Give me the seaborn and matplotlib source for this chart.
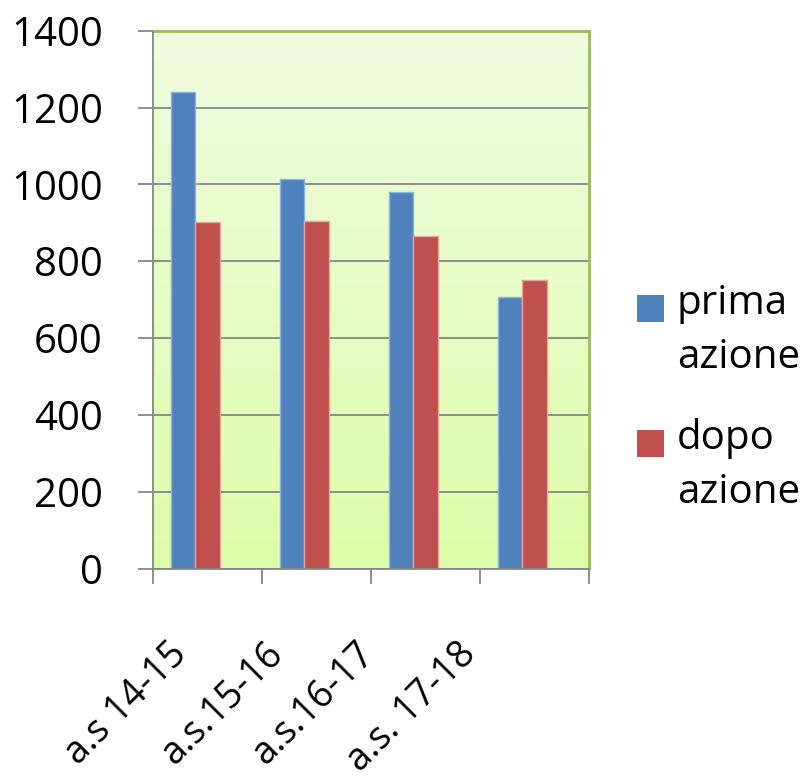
import numpy as np
import pandas as pd
import matplotlib
matplotlib.use("Agg")
import matplotlib.pyplot as plt
import matplotlib.transforms as mtransforms
from matplotlib.patches import Rectangle
import seaborn as sns

categories = ["a.s 14-15", "a.s.15-16", "a.s.16-17", "a.s. 17-18"]
prima = [1240, 1013, 980, 707]
dopo = [902, 905, 865, 750]
series_names = ["prima azione", "dopo azione"]
yticks = [0, 200, 400, 600, 800, 1000, 1200, 1400]

df = pd.DataFrame({
    "cat": categories * 2,
    "val": prima + dopo,
    "serie": [series_names[0]] * 4 + [series_names[1]] * 4,
})

sns.set_theme(style="white")
plt.rcParams["font.family"] = ["Open Sans", "DejaVu Sans"]

colors = {"prima azione": "#4F81BD", "dopo azione": "#C0504D", "_": "#FFFFFF"}
edges = ["#8DB3E2", "#E6A3A1"]

fig = plt.figure(figsize=(8.06, 7.76), dpi=100)
ax = fig.add_axes([153 / 806, 1 - 568.6 / 776, (589 - 153) / 806, (568.6 - 30.7) / 776])

# gradient background
grad = np.linspace(0, 1, 256).reshape(-1, 1)
top = np.array([240, 253, 225]) / 255
bot = np.array([221, 252, 168]) / 255
img = top[None, None, :] * (1 - grad[:, :, None]) + bot[None, None, :] * grad[:, :, None]
ax.imshow(img, extent=[-0.5, 3.5, 0, 1400], aspect="auto", origin="upper", zorder=0)

sns.barplot(data=df, x="cat", y="val", hue="serie",
            hue_order=["prima azione", "dopo azione", "_"],
            palette=colors, width=0.664, gap=0, dodge=True,
            legend=False, ax=ax, zorder=3, saturation=1)

for i, cont in enumerate(ax.containers[:2]):
    for b in cont:
        b.set_edgecolor(edges[i])
        b.set_linewidth(1.0)

ax.set_xlim(-0.5, 3.5)
ax.set_ylim(0, 1400)
ax.set_yticks(yticks)
ax.set_yticklabels([str(v) for v in yticks])
ax.yaxis.grid(True, color="#868686", linewidth=1.3, zorder=1)
ax.set_axisbelow(True)
ax.set_xlabel("")
ax.set_ylabel("")

ax.tick_params(axis="y", which="major", direction="out", length=11, width=1.3,
               color="#868686", labelsize=29, pad=25, left=True, labelcolor="black")
ax.set_xticks(range(4))
ax.set_xticklabels(categories, rotation=45, ha="right", rotation_mode="anchor", fontsize=27)
ax.tick_params(axis="x", which="major", length=0, pad=48, labelcolor="black")
ax.set_xticks([-0.5, 0.5, 1.5, 2.5, 3.5], minor=True)
ax.tick_params(axis="x", which="minor", direction="out", length=11, width=1.3,
               color="#868686", bottom=True)

offsets = [-40, -52, -70, -78]
for lab, dx in zip(ax.get_xticklabels(), offsets):
    lab.set_transform(lab.get_transform() + mtransforms.ScaledTranslation(dx / 100, 0, fig.dpi_scale_trans))

for s in ["left", "bottom"]:
    ax.spines[s].set_color("#868686")
    ax.spines[s].set_linewidth(1.3)
for s in ["top", "right"]:
    ax.spines[s].set_color("#9BBB59")
    ax.spines[s].set_linewidth(2.0)
    ax.spines[s].set_visible(True)
ax.spines["left"].set_zorder(5)
ax.spines["bottom"].set_zorder(5)

# legend drawn manually
leg_items = [("prima\nazione", colors["prima azione"], 295), ("dopo\nazione", colors["dopo azione"], 430)]
for text, col, ytop in leg_items:
    fig.add_artist(Rectangle((637 / 806, 1 - (ytop + 27) / 776), 27 / 806, 27 / 776,
                             transform=fig.transFigure, facecolor=col, edgecolor="none"))
    fig.text(677 / 806, 1 - (ytop - 12) / 776, text, fontsize=29, va="top", ha="left",
             linespacing=1.45, color="black")

fig.savefig("out.png", dpi=100)
